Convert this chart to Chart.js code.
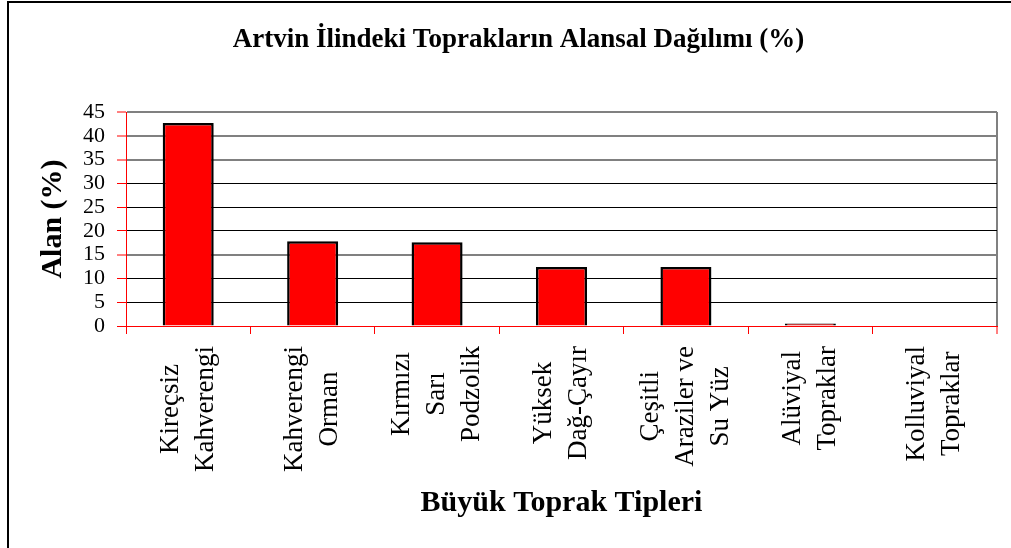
<!DOCTYPE html>
<html>
<head>
<meta charset="utf-8">
<script src="https://cdn.jsdelivr.net/npm/chart.js@4.4.1/dist/chart.umd.min.js"></script>
<style>
  html, body { margin: 0; padding: 0; background: #fff; }
  #wrap { position: relative; width: 1011px; height: 548px; overflow: hidden; background: #fff; }
  #frame { position: absolute; left: 7px; top: 1px; right: -10px; bottom: -10px;
           border-left: 2px solid #000; border-top: 2px solid #000; pointer-events: none; }
  canvas { position: absolute; left: 0; top: 0; }
</style>
</head>
<body>
<div id="wrap">
  <div id="frame"></div>
  <canvas id="c" width="1011" height="548"></canvas>
</div>
<script>
// ---- Data ----
const chartTitle = 'Artvin İlindeki Toprakların Alansal Dağılımı (%)';
const xTitle = 'Büyük Toprak Tipleri';
const yTitle = 'Alan (%)';
const categories = [
  ['Kireçsiz', 'Kahverengi'],
  ['Kahverengi', 'Orman'],
  ['Kırmızı', 'Sarı', 'Podzolik'],
  ['Yüksek', 'Dağ-Çayır'],
  ['Çeşitli', 'Araziler ve', 'Su Yüz'],
  ['Alüviyal', 'Topraklar'],
  ['Kolluviyal', 'Topraklar']
];
const values = [42.7, 17.8, 17.6, 12.4, 12.4, 0.5, 0.1];
const yTicks = [0, 5, 10, 15, 20, 25, 30, 35, 40, 45];

// ---- Styling ----
const FONT = '"Liberation Serif", "Times New Roman", serif';
Chart.defaults.font.family = FONT;
Chart.defaults.color = '#000';
const grayGridValues = [45, 40, 35, 15];
const LABEL_FONT_SIZE = 27;
const LABEL_LINE_HEIGHT = 35;
const LABEL_TOP = 346;

const xLabelPlugin = {
  id: 'xLabels',
  afterDraw(chart) {
    const ctx = chart.ctx;
    const xs = chart.scales.x;
    ctx.save();
    ctx.font = LABEL_FONT_SIZE + 'px ' + FONT;
    ctx.fillStyle = '#000';
    ctx.textAlign = 'center';
    ctx.textBaseline = 'middle';
    categories.forEach((lines, i) => {
      const x = xs.getPixelForValue(i);
      const w = Math.max(...lines.map(l => ctx.measureText(l).width));
      const cy = LABEL_TOP + w / 2;
      ctx.save();
      ctx.translate(x, cy);
      ctx.rotate(-Math.PI / 2);
      const n = lines.length;
      lines.forEach((l, j) => {
        ctx.fillText(l, 0, (j - (n - 1) / 2) * LABEL_LINE_HEIGHT);
      });
      ctx.restore();
    });
    ctx.restore();
  }
};

new Chart(document.getElementById('c'), {
  type: 'bar',
  data: {
    labels: categories,
    datasets: [{
      data: values,
      backgroundColor: '#FF0000',
      borderColor: '#000000',
      borderWidth: 2.5,
      barPercentage: 0.41,
      categoryPercentage: 1
    }]
  },
  options: {
    responsive: false,
    devicePixelRatio: 1,
    animation: false,
    layout: { padding: { left: 40, right: 14, top: 0, bottom: 0 } },
    plugins: {
      legend: { display: false },
      tooltip: { enabled: false },
      title: {
        display: true,
        text: chartTitle,
        font: { size: 27, weight: 'bold', family: FONT, lineHeight: 1.2 },
        color: '#000',
        padding: { top: 24, bottom: 55.6 }
      }
    },
    scales: {
      x: {
        type: 'category',
        offset: true,
        ticks: { display: false },
        grid: {
          offset: true,
          display: true,
          drawOnChartArea: true,
          drawTicks: true,
          tickLength: 8,
          tickColor: 'red',
          tickWidth: 1,
          color: ctx => ctx.type === 'tick' ? 'rgba(0,0,0,0)' : '#808080',
          lineWidth: ctx => ctx.type === 'tick' ? 1 : 2
        },
        border: { display: true, color: 'red', width: 1 },
        title: {
          display: true,
          text: xTitle,
          font: { size: 30, weight: 'bold', family: FONT, lineHeight: 1.2 },
          color: '#000',
          padding: { top: 0, bottom: 27 }
        },
        afterFit: s => { s.height = 222; }
      },
      y: {
        min: 0,
        max: 45,
        afterBuildTicks: s => { s.ticks = yTicks.map(v => ({ value: v })); },
        ticks: {
          font: { size: 22, family: FONT, lineHeight: 1 },
          color: '#000',
          padding: 12,
          autoSkip: false
        },
        grid: {
          drawTicks: true,
          tickLength: 9,
          tickColor: 'red',
          tickWidth: 1,
          color: ctx => {
            const v = ctx.tick ? ctx.tick.value : null;
            if (v === 0) return 'red';
            return grayGridValues.includes(v) ? '#808080' : '#000';
          },
          lineWidth: ctx => {
            const v = ctx.tick ? ctx.tick.value : null;
            return grayGridValues.includes(v) ? 2 : 1;
          }
        },
        border: { display: true, color: 'red', width: 1 },
        title: {
          display: true,
          text: yTitle,
          font: { size: 30, weight: 'bold', family: FONT, lineHeight: 1.2 },
          color: '#000',
          padding: { top: -5, bottom: 0 }
        },
        afterFit: s => { s.width = 86; }
      }
    }
  },
  plugins: [xLabelPlugin]
});
</script>
</body>
</html>
